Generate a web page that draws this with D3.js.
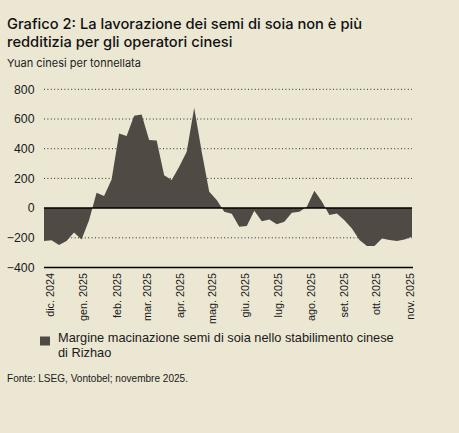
<!DOCTYPE html>
<html>
<head>
<meta charset="utf-8">
<script src="https://cdn.jsdelivr.net/npm/d3@7"></script>
<style>
  html, body { margin: 0; padding: 0; background: #ece7d3; }
  svg { display: block; }
</style>
</head>
<body>
<svg id="chart" width="459" height="433"></svg>
<script>
// ---- Data ----
const weekStart = "2024-11-25"; // first weekly observation (Monday)
const margins = [
  -222, -216, -249, -222, -164, -211, -81, 103, 81, 193,
  503, 485, 622, 631, 458, 456, 222, 189, 278, 379,
  675, 379, 110, 54, -25, -38, -126, -121, -18, -88,
  -76, -108, -92, -32, -25, 9, 116, 45, -47, -36,
  -81, -137, -215, -256, -256, -204, -215, -222, -211, -193
];
const yTicks = [-400, -200, 0, 200, 400, 600, 800];
const monthLabels = ["dic. 2024", "gen. 2025", "feb. 2025", "mar. 2025", "apr. 2025", "mag. 2025",
                     "giu. 2025", "lug. 2025", "ago. 2025", "set. 2025", "ott. 2025", "nov. 2025"];
const titleLines = ["Grafico 2: La lavorazione dei semi di soia non è più",
                    "redditizia per gli operatori cinesi"];
const unitLabel = "Yuan cinesi per tonnellata";
const legendLines = ["Margine macinazione semi di soia nello stabilimento cinese", "di Rizhao"];
const sourceText = "Fonte: LSEG, Vontobel; novembre 2025.";

// ---- Build ----
const parse = d3.utcParse("%Y-%m-%d");
const start = parse(weekStart);
const data = margins.map((v, i) => ({ date: d3.utcDay.offset(start, 7 * i), value: v }));

const svg = d3.select("#chart");
const bg = "#ece7d3";
const fillCol = "#504a45";
const sans = "'Liberation Sans', Arial, sans-serif";
const head = "Inter, 'Open Sans', sans-serif";

svg.append("rect").attr("width", 459).attr("height", 433).attr("fill", bg);

const x = d3.scaleUtc()
  .domain(d3.extent(data, d => d.date))
  .range([44, 412]);
const y = d3.scaleLinear().domain([-400, 800]).range([267.5, 89.3]);

// Title
svg.append("g").selectAll("text").data(titleLines).join("text")
  .attr("x", 7).attr("y", (d, i) => 28.5 + i * 18.5)
  .attr("font-family", head).attr("font-weight", 550).attr("font-size", 14.7)
  .attr("fill", "#111").text(d => d);

svg.append("text").attr("x", 7).attr("y", 67)
  .attr("font-family", head).attr("font-size", 11).attr("fill", "#222")
  .text(unitLabel);

// Gridlines (dotted)
svg.append("g").selectAll("line").data(yTicks.filter(t => t !== 0 && t !== -400)).join("line")
  .attr("x1", 44).attr("x2", 412)
  .attr("y1", d => y(d)).attr("y2", d => y(d))
  .attr("stroke", "#2a2a2a").attr("stroke-width", 1)
  .attr("stroke-dasharray", "1,2.4");

// Y tick labels
svg.append("g").selectAll("text").data(yTicks).join("text")
  .attr("x", 34.5).attr("y", d => y(d)).attr("dy", "0.35em")
  .attr("text-anchor", "end")
  .attr("font-family", sans).attr("font-size", 12.3).attr("fill", "#1a1a1a")
  .text(d => d < 0 ? "\u2212" + Math.abs(d) : d);

// Area
const area = d3.area()
  .x(d => x(d.date)).y0(y(0)).y1(d => y(d.value));
svg.append("path").datum(data).attr("d", area).attr("fill", fillCol);

// Zero line and bottom axis line
svg.append("line").attr("x1", 44).attr("x2", 412).attr("y1", y(0)).attr("y2", y(0))
  .attr("stroke", "#000").attr("stroke-width", 1.5);
svg.append("line").attr("x1", 44).attr("x2", 413).attr("y1", y(-400)).attr("y2", y(-400))
  .attr("stroke", "#000").attr("stroke-width", 1.3);

// X labels (month starts)
const months = d3.utcMonth.range(d3.utcMonth.ceil(x.domain()[0]), x.domain()[1]);
svg.append("g").selectAll("text").data(months).join("text")
  .attr("transform", d => `translate(${x(d)},273) rotate(-90)`)
  .attr("dy", "0.35em").attr("text-anchor", "end")
  .attr("font-family", sans).attr("font-size", 10.8).attr("fill", "#1a1a1a")
  .text((d, i) => monthLabels[i]);

// Legend
svg.append("rect").attr("x", 40).attr("y", 336.5).attr("width", 10).attr("height", 9)
  .attr("fill", fillCol);
svg.append("g").selectAll("text").data(legendLines).join("text")
  .attr("x", 58).attr("y", (d, i) => 342 + i * 15)
  .attr("font-family", sans).attr("font-size", 12.8).attr("fill", "#1a1a1a")
  .text(d => d);

// Source
svg.append("text").attr("x", 7).attr("y", 382)
  .attr("font-family", sans).attr("font-size", 10).attr("fill", "#1a1a1a")
  .attr("textLength", 181).attr("lengthAdjust", "spacingAndGlyphs")
  .text(sourceText);
</script>
</body>
</html>
